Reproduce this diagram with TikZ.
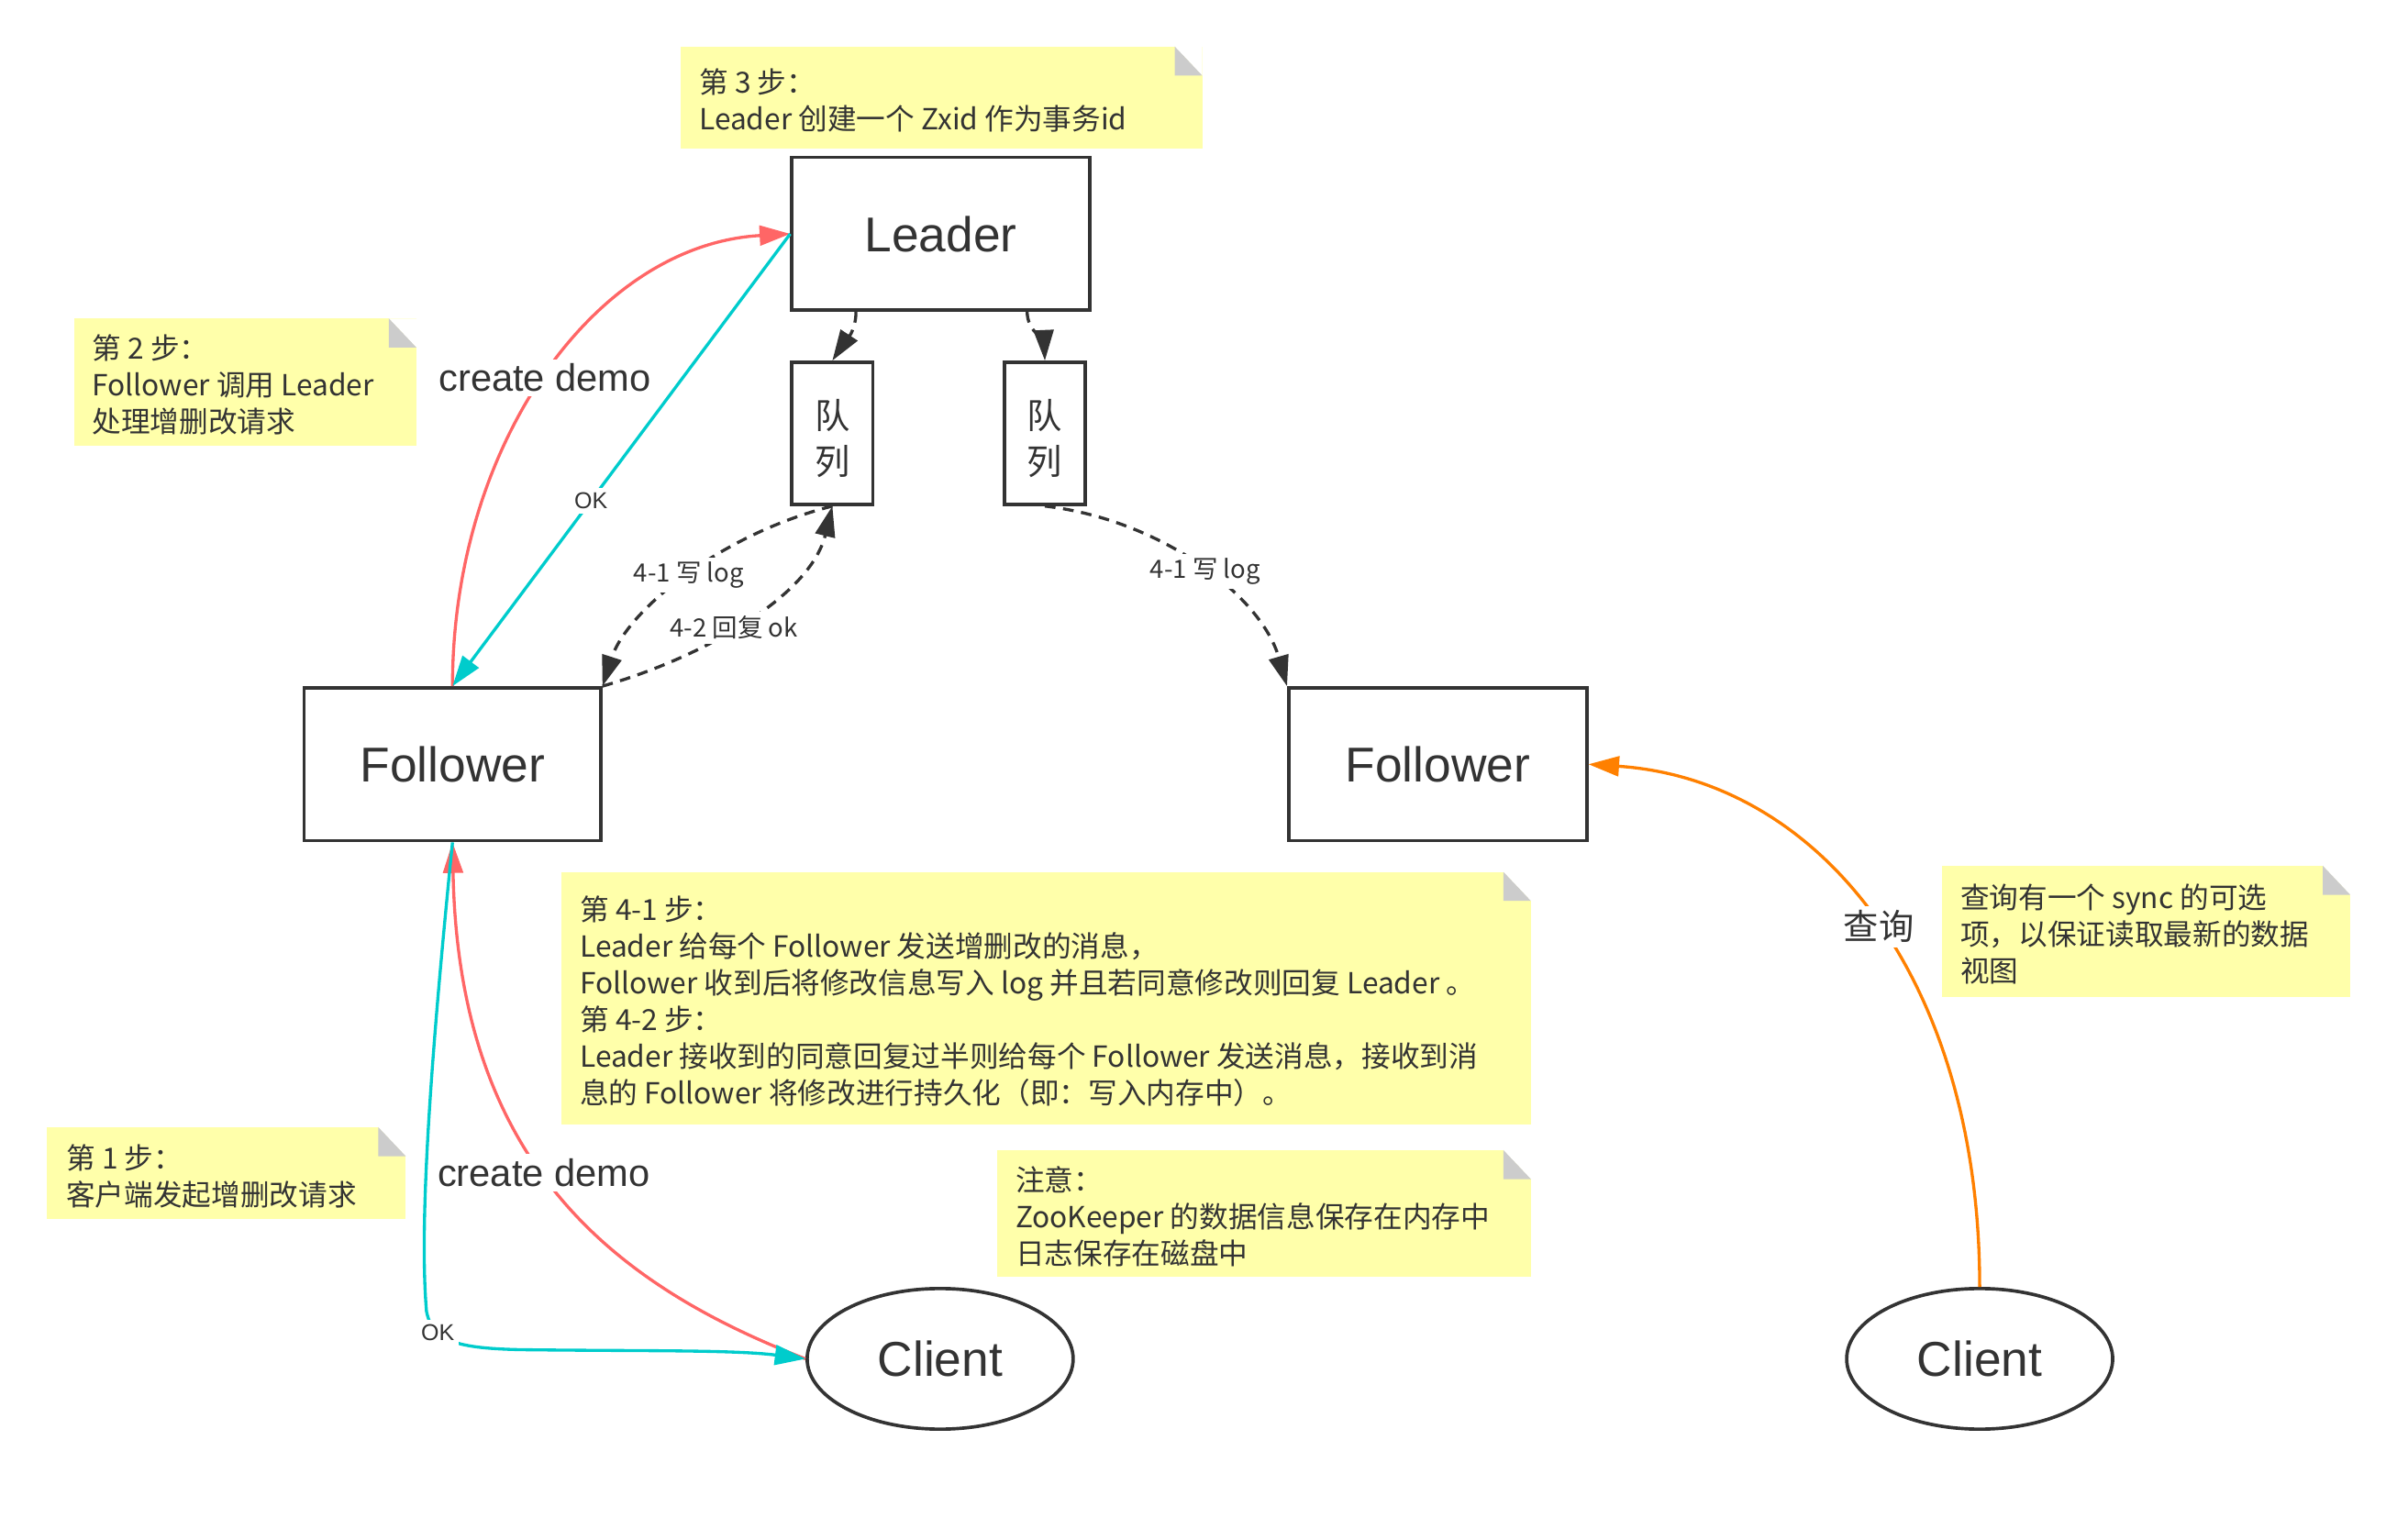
\documentclass[tikz,border=0pt]{standalone}
\usepackage{fontspec}
\setmainfont{Liberation Sans}
\newfontfamily\cjk{Noto Sans CJK SC}
\usetikzlibrary{arrows.meta,shapes.geometric,calc}
\definecolor{ink}{HTML}{333333}
\definecolor{notefill}{HTML}{FFFFAA}
\definecolor{foldgray}{HTML}{CCCCCC}
\definecolor{reqred}{HTML}{FF6666}
\definecolor{okcyan}{HTML}{00CCCC}
\definecolor{queryorange}{HTML}{FF8000}
\begin{document}
\begin{tikzpicture}[x=0.5pt,y=-0.5pt,
  every node/.style={text=ink},
  box/.style={draw=ink, line width=1.1pt, fill=white, inner sep=0pt},
  server/.style={box, minimum width=97.5pt, minimum height=50pt, font=\fontsize{16}{19}\selectfont},
  queue/.style={box, minimum width=26.5pt, minimum height=46.5pt, align=center, text height=28pt, font=\cjk\fontsize{11.5}{15}\selectfont},
  client/.style={ellipse, draw=ink, line width=1.1pt, fill=white, minimum width=87pt, minimum height=46pt, inner sep=0pt, font=\fontsize{16}{19}\selectfont},
  note/.style={fill=notefill, inner sep=0pt, anchor=north west, path picture={
      \fill[white] ([xshift=-9pt]path picture bounding box.north east) -- (path picture bounding box.north east)
         -- ([yshift=-9.5pt]path picture bounding box.north east) -- cycle;
      \fill[foldgray] ([xshift=-9pt]path picture bounding box.north east) -- ([yshift=-9.5pt]path picture bounding box.north east)
         -- ([xshift=-9pt,yshift=-9.5pt]path picture bounding box.north east) -- cycle;}},
  notetext/.style={anchor=west, align=left, inner sep=0pt, font=\cjk\fontsize{9.5}{12}\selectfont},
  conn/.style={line width=1pt, -{Triangle[length=10pt,width=6.5pt]}},
  flow/.style={conn, draw=ink, dash pattern=on 3.5pt off 2.5pt},
  lbl/.style={fill=white, inner sep=1.5pt},
  smalllbl/.style={lbl, font=\cjk\fontsize{8.25}{10}\selectfont},
  oklbl/.style={lbl, font=\fontsize{7.5}{9}\selectfont},
  biglbl/.style={lbl, font=\fontsize{12.5}{15}\selectfont},
  querylbl/.style={lbl, font=\cjk\fontsize{11.5}{14}\selectfont}]

\useasboundingbox (0,0) rectangle (1568,1007);

% sticky notes
\node[note, minimum width=170.5pt, minimum height=33.5pt] (n3) at (445,30) {};
\node[notetext] (n3t) at ([xshift=6pt,yshift=-1pt]n3.west) {第 3 步：\\Leader 创建一个 Zxid 作为事务id};

\node[note, minimum width=112pt, minimum height=41.5pt] (n2) at (48,208) {};
\node[notetext] (n2t) at ([xshift=6pt,yshift=-1pt]n2.west) {第 2 步：\\Follower 调用 Leader\\处理增删改请求};

\node[note, minimum width=317pt, minimum height=82.5pt] (n4) at (367,570) {};
\node[notetext] (n4t) at ([xshift=6pt,yshift=-1pt]n4.west) {第 4-1 步：\\Leader 给每个 Follower 发送增删改的消息，\\Follower 收到后将修改信息写入 log 并且若同意修改则回复 Leader 。\\第 4-2 步：\\Leader 接收到的同意回复过半则给每个 Follower 发送消息，接收到消\\息的 Follower 将修改进行持久化（即：写入内存中）。};

\node[note, minimum width=117.5pt, minimum height=30pt] (n1) at (30,737) {};
\node[notetext] (n1t) at ([xshift=6.5pt,yshift=-1pt]n1.west) {第 1 步：\\客户端发起增删改请求};

\node[note, minimum width=174.5pt, minimum height=41.5pt] (nz) at (652,752) {};
\node[notetext] (nzt) at ([xshift=6pt,yshift=-1pt]nz.west) {注意：\\ZooKeeper 的数据信息保存在内存中\\日志保存在磁盘中};

\node[note, minimum width=133.5pt, minimum height=43pt] (ns) at (1270,566) {};
\node[notetext] (nst) at ([xshift=6pt,yshift=-1pt]ns.west) {查询有一个 sync 的可选\\项，以保证读取最新的数据\\视图};

% servers, queues and clients
\node[server] (leader) at (615.5,153) {Leader};
\node[queue] (q1) at (544.5,283.5) {队\\列};
\node[queue] (q2) at (683.5,283.5) {队\\列};
\node[server, minimum width=97pt] (fL) at (296,500) {Follower};
\node[server] (fR) at (940.5,500) {Follower};
\node[client] (cL) at (615,889) {Client};
\node[client] (cR) at (1295,889) {Client};

% step 1: client request and its reply
\draw[conn, reqred] (cL.west) .. controls (400,840) and (300,760) .. (fL.south)
  node[biglbl, pos=0.54] {create demo};
\draw[conn, okcyan] (fL.south) .. controls (282,690) and (274,800) .. (279,858)
  .. controls (283,878) and (300,882) .. (340,883) node[oklbl, pos=0.3] {OK}
  .. controls (420,884) and (480,883) .. (cL.west);

% step 2: follower forwards to leader, leader answers
\draw[conn, reqred] (fL.north) .. controls (296,290) and (390,160) .. (leader.west)
  node[biglbl, pos=0.49] {create demo};
\draw[conn, okcyan] (leader.west) -- (fL.north) node[oklbl, pos=0.59] {OK};

% step 3/4: leader queues, log writes and acks
\draw[flow] ($(leader.south west)+(43,0)$) .. controls (560,218) and (551,226) .. (q1.north);
\draw[flow] ($(leader.south west)+(155,0)$) .. controls (672,216) and (683,224) .. (q2.north);
\draw[flow] (q1.south) .. controls (470,350) and (410,400) .. (fL.north east)
  node[smalllbl, pos=0.48] {4-1 写 log};
\draw[flow] (fL.north east) .. controls (460,430) and (530,390) .. (q1.south)
  node[smalllbl, pos=0.45] {4-2 回复 ok};
\draw[flow] (q2.south) .. controls (760,340) and (825,390) .. (fR.north west)
  node[smalllbl, pos=0.52] {4-1 写 log};

% read path
\draw[conn, queryorange] (cR.north) .. controls (1295,640) and (1190,510) .. (fR.east)
  node[querylbl, pos=0.48] {查询};
\end{tikzpicture}
\end{document}
